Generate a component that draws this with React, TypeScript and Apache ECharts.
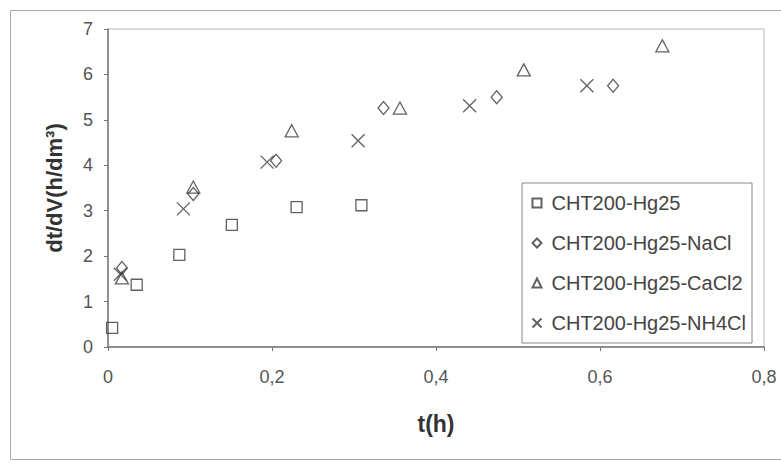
import React, { useEffect, useRef } from "react";
import * as echarts from "echarts";

const seriesNames = [
  "CHT200-Hg25",
  "CHT200-Hg25-NaCl",
  "CHT200-Hg25-CaCl2",
  "CHT200-Hg25-NH4Cl",
];

const hg25: [number, number][] = [
  [0.005, 0.42],
  [0.035, 1.37],
  [0.087, 2.03],
  [0.151, 2.69],
  [0.23, 3.08],
  [0.309, 3.12],
];
const nacl: [number, number][] = [
  [0.017, 1.74],
  [0.104, 3.37],
  [0.205, 4.1],
  [0.336, 5.26],
  [0.474, 5.5],
  [0.616, 5.75],
];
const cacl2: [number, number][] = [
  [0.017, 1.52],
  [0.104, 3.52],
  [0.224, 4.76],
  [0.356, 5.26],
  [0.507, 6.1],
  [0.676, 6.63],
];
const nh4cl: [number, number][] = [
  [0.015, 1.6],
  [0.092, 3.04],
  [0.194, 4.07],
  [0.305, 4.54],
  [0.441, 5.31],
  [0.584, 5.75],
];

const xTicks = { min: 0, max: 0.8, interval: 0.2 };
const yTicks = { min: 0, max: 7, interval: 1 };

const FONT = "'Liberation Sans', Arial, sans-serif";
const MARK = "#3a3a3a";

export default function App() {
  const ref = useRef<HTMLDivElement>(null);
  useEffect(() => {
    if (!ref.current) return;
    const chart = echarts.init(ref.current, undefined, { renderer: "svg" });
    const symbols = [
      { symbol: "rect", size: 11 },
      { symbol: "diamond", size: [11, 13] },
      { symbol: "triangle", size: [13, 12] },
      { symbol: "path://M0,0L10,10M10,0L0,10", size: 13 },
    ];
    const datas = [hg25, nacl, cacl2, nh4cl];
    chart.setOption({
      animation: false,
      backgroundColor: "#fff",
      textStyle: { fontFamily: FONT },
      grid: { left: 108, top: 29, right: 17, bottom: 119, show: true, borderColor: "#b5b5b5", borderWidth: 1 },
      graphic: [
        {
          type: "rect",
          shape: { x: 10.5, y: 10.5, width: 790, height: 449 },
          style: { fill: "none", stroke: "#aaa", lineWidth: 1 },
          silent: true,
        },
      ],
      legend: {
        orient: "vertical",
        left: 522,
        top: 183,
        padding: [10, 6, 10, 8],
        itemGap: 20,
        itemWidth: 9,
        itemHeight: 9,
        borderColor: "#888",
        borderWidth: 1,
        backgroundColor: "#fff",
        textStyle: { fontSize: 20, color: "#444", fontFamily: FONT, lineHeight: 18, padding: [0, 0, 0, 5] },
        data: seriesNames,
      },
      xAxis: {
        type: "value",
        ...xTicks,
        name: "t(h)",
        nameLocation: "middle",
        nameGap: 65,
        nameTextStyle: { fontSize: 23, fontWeight: "bold", color: "#333", fontFamily: FONT },
        axisLine: { lineStyle: { color: "#777", width: 1.5 } },
        axisTick: { show: true, length: 4, lineStyle: { color: "#777" } },
        splitLine: { show: false },
        axisLabel: {
          fontSize: 18,
          color: "#555",
          margin: 21,
          fontFamily: FONT,
          formatter: (v: number) => (v === 0 ? "0" : String(Math.round(v * 10) / 10).replace(".", ",")),
        },
      },
      yAxis: {
        type: "value",
        ...yTicks,
        name: "dt/dV(h/dm³)",
        nameLocation: "middle",
        nameGap: 43,
        nameTextStyle: { fontSize: 22, fontWeight: "bold", color: "#333", fontFamily: FONT },
        axisLine: { show: true, lineStyle: { color: "#777", width: 1.5 } },
        axisTick: { show: true, length: 4, lineStyle: { color: "#777" } },
        splitLine: { show: false },
        axisLabel: { fontSize: 18, color: "#555", margin: 15, fontFamily: FONT },
      },
      series: seriesNames.map((name, i) => ({
        name,
        type: "scatter",
        data: datas[i],
        symbol: symbols[i].symbol,
        symbolSize: symbols[i].size,
        itemStyle: { color: "none", borderColor: MARK, borderWidth: 1.3 },
      })),
    });
    return () => chart.dispose();
  }, []);
  return <div ref={ref} style={{ width: 781, height: 466, position: "absolute", left: 0, top: 0 }} />;
}
